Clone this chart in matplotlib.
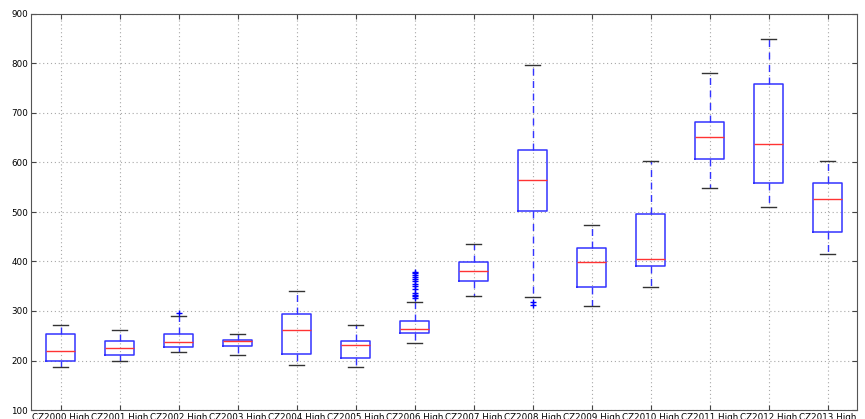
import matplotlib
matplotlib.use("Agg")
import matplotlib.pyplot as plt

# box statistics (value units)
labels = ["CZ%d High" % y for y in range(2000, 2014)]
whislo = [186, 200, 217, 212, 191, 186, 235, 331, 328, 310, 348, 548, 510, 416]
q1 = [200, 212, 228, 230, 213, 206, 255, 360, 503, 349, 390, 608, 558, 460]
med = [219, 226, 237, 239, 261, 231, 264, 381, 565, 398, 405, 651, 637, 527]
q3 = [253, 239, 253, 242, 294, 239, 280, 398, 625, 428, 495, 681, 759, 558]
whishi = [272, 261, 290, 253, 340, 272, 318, 435, 796, 473, 603, 780, 849, 604]
fliers = [[], [], [296], [], [], [], [326, 330, 333, 337, 345, 350, 355, 360, 364, 368, 372, 376, 379],
          [], [312, 319], [], [], [], [], []]

stats = []
for i in range(len(labels)):
    stats.append({"label": labels[i], "whislo": whislo[i], "q1": q1[i], "med": med[i],
                  "q3": q3[i], "whishi": whishi[i], "fliers": fliers[i]})

fig = plt.figure(figsize=(8.65, 4.19), dpi=100)
ax = fig.add_axes([31 / 865, 9 / 419, 826 / 865, 396 / 419])

ax.bxp(stats, widths=0.5,
       boxprops=dict(color="#3333ff", linewidth=1.1),
       medianprops=dict(color="#ff3333", linewidth=1.0),
       whiskerprops=dict(color="#3333ff", linestyle=(0, (5, 4)), linewidth=1.0),
       capprops=dict(color="#333333", linewidth=1.0),
       flierprops=dict(marker="+", markeredgecolor="blue", markersize=5, linestyle="none"))

ax.set_ylim(100, 900)
ax.set_xlim(0.5, len(labels) + 0.5)
ax.grid(True, linestyle=(0, (1, 2.5)), color="#a8a8a8", linewidth=0.8)
ax.set_axisbelow(True)
ax.tick_params(direction="in", top=True, right=True, labelsize=6.3, pad=2, color="#444444")
for s in ax.spines.values():
    s.set_color("#555555")

fig.savefig("out.png", dpi=100)
